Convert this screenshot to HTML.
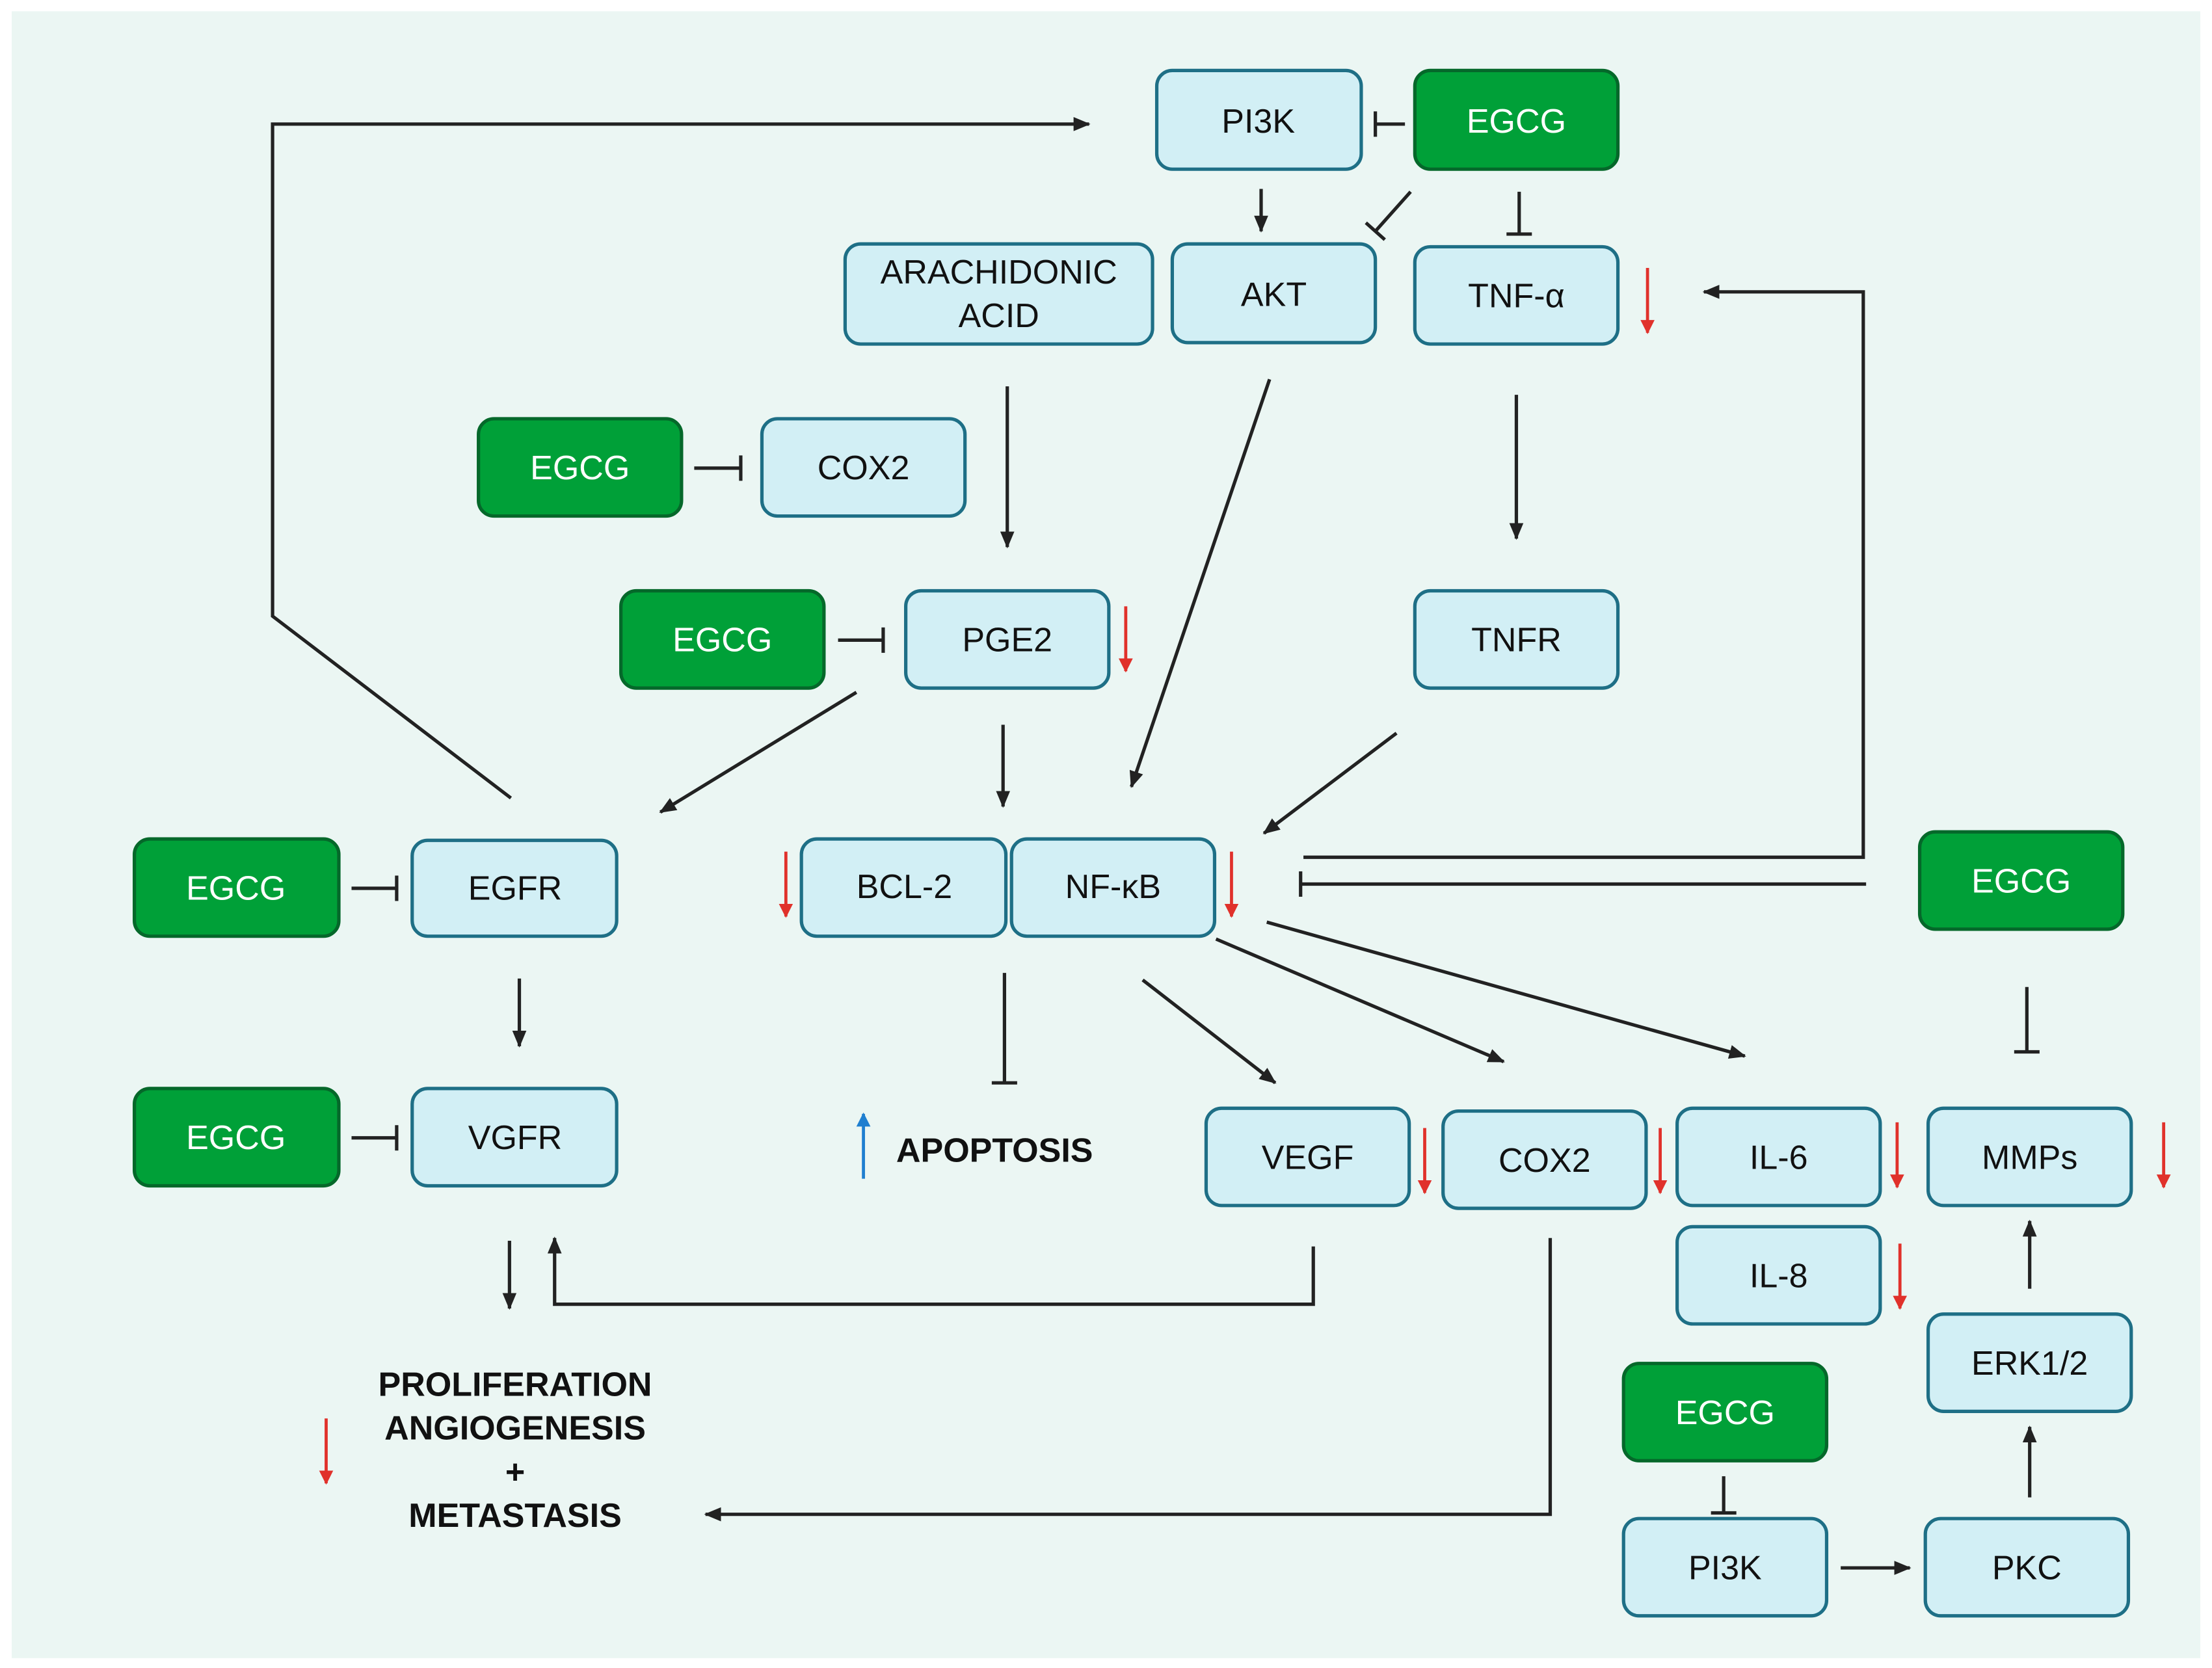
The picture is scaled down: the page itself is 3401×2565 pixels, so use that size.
<!DOCTYPE html>
<html><head><meta charset="utf-8"><style>
html,body{margin:0;padding:0;background:#fff}
svg{display:block}
text{font-family:"Liberation Sans",sans-serif}
</style></head><body>
<svg width="3401" height="2565" viewBox="0 0 1568 1183" xmlns="http://www.w3.org/2000/svg">
<defs>
<marker id="a" markerWidth="12" markerHeight="10" refX="11" refY="5" orient="auto" markerUnits="userSpaceOnUse"><path d="M0,0 L12,5 L0,10 Z" fill="#222"/></marker>
<marker id="r" markerWidth="10" markerHeight="12" refX="9" refY="5" orient="auto" markerUnits="userSpaceOnUse"><path d="M0,0 L10,5 L0,10 Z" fill="#e0312b"/></marker>
<marker id="b" markerWidth="10" markerHeight="12" refX="9" refY="5" orient="auto" markerUnits="userSpaceOnUse"><path d="M0,0 L10,5 L0,10 Z" fill="#1f7fd0"/></marker>
<marker id="t" markerWidth="4" markerHeight="20" refX="2" refY="10" orient="auto" markerUnits="userSpaceOnUse"><path d="M2,1 L2,19" stroke="#222" stroke-width="2.4"/></marker>
</defs>
<rect x="0" y="0" width="1568" height="1183" fill="#fff"/>
<rect x="8" y="8" width="1552" height="1168" fill="#ebf6f3"/>
<g stroke="#1e6f86" stroke-width="2.4" fill="#d2eff5">
<rect x="820" y="50" width="145" height="70" rx="11"/>
<rect x="599" y="173" width="218" height="71" rx="11"/>
<rect x="831" y="173" width="144" height="70" rx="11"/>
<rect x="1003" y="175" width="144" height="69" rx="11"/>
<rect x="540" y="297" width="144" height="69" rx="11"/>
<rect x="642" y="419" width="144" height="69" rx="11"/>
<rect x="1003" y="419" width="144" height="69" rx="11"/>
<rect x="292" y="596" width="145" height="68" rx="11"/>
<rect x="568" y="595" width="145" height="69" rx="11"/>
<rect x="717" y="595" width="144" height="69" rx="11"/>
<rect x="292" y="772" width="145" height="69" rx="11"/>
<rect x="855" y="786" width="144" height="69" rx="11"/>
<rect x="1023" y="788" width="144" height="69" rx="11"/>
<rect x="1189" y="786" width="144" height="69" rx="11"/>
<rect x="1367" y="786" width="144" height="69" rx="11"/>
<rect x="1189" y="870" width="144" height="69" rx="11"/>
<rect x="1367" y="932" width="144" height="69" rx="11"/>
<rect x="1151" y="1077" width="144" height="69" rx="11"/>
<rect x="1365" y="1077" width="144" height="69" rx="11"/>
</g>
<g stroke="#05682a" stroke-width="2.4" fill="#00a038">
<rect x="1003" y="50" width="144" height="70" rx="11"/>
<rect x="339" y="297" width="144" height="69" rx="11"/>
<rect x="440" y="419" width="144" height="69" rx="11"/>
<rect x="95" y="595" width="145" height="69" rx="11"/>
<rect x="1361" y="590" width="144" height="69" rx="11"/>
<rect x="95" y="772" width="145" height="69" rx="11"/>
<rect x="1151" y="967" width="144" height="69" rx="11"/>
</g>
<g font-size="24" text-anchor="middle" fill="#111">
<text x="892" y="94">PI3K</text>
<text x="708" y="201">ARACHIDONIC</text>
<text x="708" y="232">ACID</text>
<text x="903" y="217">AKT</text>
<text x="1075" y="218">TNF-α</text>
<text x="612" y="340">COX2</text>
<text x="714" y="462">PGE2</text>
<text x="1075" y="462">TNFR</text>
<text x="365" y="638">EGFR</text>
<text x="641" y="637">BCL-2</text>
<text x="789" y="637">NF-κB</text>
<text x="365" y="815">VGFR</text>
<text x="927" y="829">VEGF</text>
<text x="1095" y="831">COX2</text>
<text x="1261" y="829">IL-6</text>
<text x="1439" y="829">MMPs</text>
<text x="1261" y="913">IL-8</text>
<text x="1439" y="975">ERK1/2</text>
<text x="1223" y="1120">PI3K</text>
<text x="1437" y="1120">PKC</text>
</g>
<g font-size="24" text-anchor="middle" fill="#fff">
<text x="1075" y="94">EGCG</text>
<text x="411" y="340">EGCG</text>
<text x="512" y="462">EGCG</text>
<text x="167" y="638">EGCG</text>
<text x="1433" y="633">EGCG</text>
<text x="167" y="815">EGCG</text>
<text x="1223" y="1010">EGCG</text>
</g>
<g font-size="24" font-weight="bold" text-anchor="middle" fill="#111">
<text x="705" y="824">APOPTOSIS</text>
<text x="365" y="990">PROLIFERATION</text>
<text x="365" y="1021">ANGIOGENESIS</text>
<text x="365" y="1052">+</text>
<text x="365" y="1083">METASTASIS</text>
</g>
<g stroke="#222" stroke-width="2.4" fill="none">
<polyline points="362,566 193,437 193,88 772,88" marker-end="url(#a)"/>
<line x1="996" y1="88" x2="975" y2="88" marker-end="url(#t)"/>
<line x1="894" y1="134" x2="894" y2="164" marker-end="url(#a)"/>
<line x1="1000" y1="136" x2="975" y2="164" marker-end="url(#t)"/>
<line x1="1077" y1="136" x2="1077" y2="166" marker-end="url(#t)"/>
<line x1="714" y1="274" x2="714" y2="388" marker-end="url(#a)"/>
<line x1="900" y1="269" x2="802" y2="558" marker-end="url(#a)"/>
<line x1="1075" y1="280" x2="1075" y2="382" marker-end="url(#a)"/>
<line x1="492" y1="332" x2="525" y2="332" marker-end="url(#t)"/>
<line x1="594" y1="454" x2="626" y2="454" marker-end="url(#t)"/>
<line x1="607" y1="491" x2="468" y2="576" marker-end="url(#a)"/>
<line x1="711" y1="514" x2="711" y2="572" marker-end="url(#a)"/>
<line x1="990" y1="520" x2="896" y2="591" marker-end="url(#a)"/>
<polyline points="924,608 1321,608 1321,207 1208,207" marker-end="url(#a)"/>
<line x1="1323" y1="627" x2="922" y2="627" marker-end="url(#t)"/>
<line x1="249" y1="630" x2="281" y2="630" marker-end="url(#t)"/>
<line x1="368" y1="694" x2="368" y2="742" marker-end="url(#a)"/>
<line x1="249" y1="807" x2="281" y2="807" marker-end="url(#t)"/>
<line x1="712" y1="690" x2="712" y2="768" marker-end="url(#t)"/>
<line x1="810" y1="695" x2="904" y2="768" marker-end="url(#a)"/>
<line x1="862" y1="666" x2="1066" y2="753" marker-end="url(#a)"/>
<line x1="898" y1="654" x2="1237" y2="749" marker-end="url(#a)"/>
<line x1="1437" y1="700" x2="1437" y2="746" marker-end="url(#t)"/>
<line x1="361" y1="880" x2="361" y2="928" marker-end="url(#a)"/>
<polyline points="931,884 931,925 393,925 393,878" marker-end="url(#a)"/>
<polyline points="1099,878 1099,1074 500,1074" marker-end="url(#a)"/>
<line x1="1222" y1="1047" x2="1222" y2="1073" marker-end="url(#t)"/>
<line x1="1305" y1="1112" x2="1354" y2="1112" marker-end="url(#a)"/>
<line x1="1439" y1="1062" x2="1439" y2="1012" marker-end="url(#a)"/>
<line x1="1439" y1="914" x2="1439" y2="866" marker-end="url(#a)"/>
</g>
<g stroke="#e0312b" stroke-width="2.2">
<line x1="1168" y1="190" x2="1168" y2="236" marker-end="url(#r)"/>
<line x1="798" y1="430" x2="798" y2="476" marker-end="url(#r)"/>
<line x1="557" y1="604" x2="557" y2="650" marker-end="url(#r)"/>
<line x1="873" y1="604" x2="873" y2="650" marker-end="url(#r)"/>
<line x1="1010" y1="800" x2="1010" y2="846" marker-end="url(#r)"/>
<line x1="1177" y1="800" x2="1177" y2="846" marker-end="url(#r)"/>
<line x1="1345" y1="796" x2="1345" y2="842" marker-end="url(#r)"/>
<line x1="1534" y1="796" x2="1534" y2="842" marker-end="url(#r)"/>
<line x1="1347" y1="882" x2="1347" y2="928" marker-end="url(#r)"/>
<line x1="231" y1="1006" x2="231" y2="1052" marker-end="url(#r)"/>
</g>
<line x1="612" y1="836" x2="612" y2="790" stroke="#1f7fd0" stroke-width="2.2" marker-end="url(#b)"/>
</svg>
</body></html>
